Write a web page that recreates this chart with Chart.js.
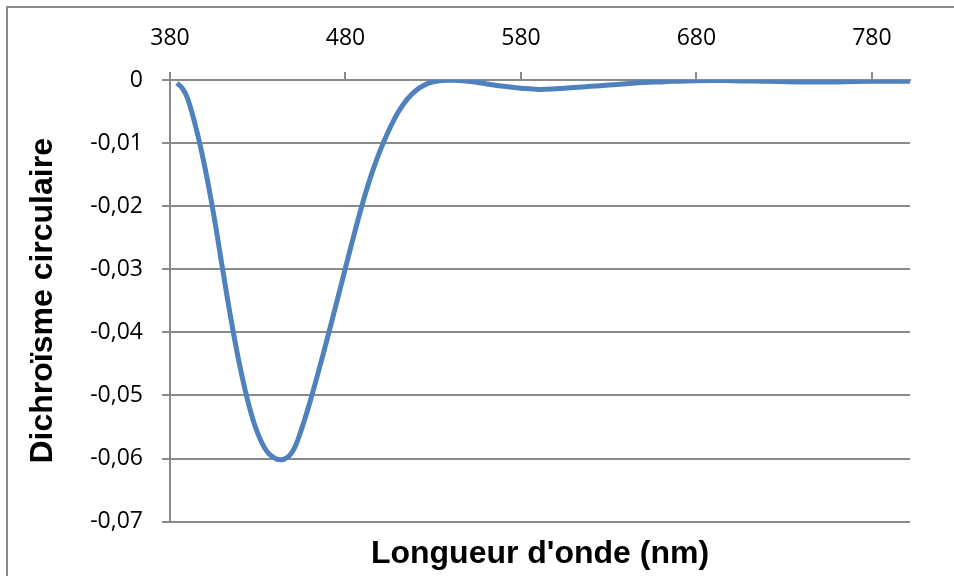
<!DOCTYPE html>
<html>
<head>
<meta charset="utf-8">
<script src="https://cdn.jsdelivr.net/npm/chart.js@4.4.1/dist/chart.umd.min.js"></script>
<style>
  html, body { margin: 0; padding: 0; background: #fff; }
  #wrap { width: 954px; height: 576px; }
</style>
</head>
<body>
<div id="wrap"><canvas id="cd"></canvas></div>
<script>
// --- données ---
const wavelengths = [384, 387, 390, 395, 400, 405, 410, 415, 420, 425, 430, 435, 440, 445, 450, 455, 460, 465, 470, 475, 480, 485, 490, 495, 500, 505, 510, 515, 520, 525, 530, 535, 540, 550, 560, 570, 580, 590, 600, 610, 620, 630, 640, 650, 660, 680, 700, 720, 740, 760, 780, 802];
const cdValues = [-0.0005, -0.0013, -0.0029, -0.0078, -0.0140, -0.0215, -0.0300, -0.0383, -0.0456, -0.0516, -0.0560, -0.0588, -0.0600, -0.0601, -0.0588, -0.0553, -0.0508, -0.0458, -0.0406, -0.0352, -0.0298, -0.0244, -0.0193, -0.0148, -0.0110, -0.0078, -0.0051, -0.0031, -0.0017, -0.0008, -0.0003, -0.0001, 0, -0.0002, -0.0006, -0.0010, -0.0013, -0.0015, -0.0014, -0.0012, -0.0010, -0.0008, -0.0006, -0.0004, -0.0003, -0.0001, -0.0001, -0.0002, -0.0003, -0.0003, -0.0002, -0.0002];
const xTicks = [380, 480, 580, 680, 780];
const yTicks = [0, -0.01, -0.02, -0.03, -0.04, -0.05, -0.06, -0.07];

const points = wavelengths.map((x, i) => ({ x, y: cdValues[i] }));

// cadre gris du graphique (coupé à droite et en bas)
const framePlugin = {
    id: 'frame',
    beforeDraw(chart) {
        const ctx = chart.ctx;
        ctx.save();
        ctx.fillStyle = '#ffffff';
        ctx.fillRect(0, 0, chart.width, chart.height);
        ctx.strokeStyle = '#8a8a8a';
        ctx.lineWidth = 2;
        ctx.beginPath();
        ctx.moveTo(7, chart.height + 2);
        ctx.lineTo(7, 7);
        ctx.lineTo(chart.width + 2, 7);
        ctx.stroke();
        ctx.restore();
    }
};

const tickFont = { family: '"Open Sans", sans-serif', size: 23 };
const titleFont = { family: '"Liberation Sans", Arial, sans-serif', size: 32, weight: 'bold' };

new Chart(document.getElementById('cd'), {
    type: 'line',
    data: {
        datasets: [{
            data: points,
            borderColor: '#4f81bd',
            borderWidth: 5,
            pointRadius: 0,
            tension: 0.4,
            fill: false,
        }]
    },
    plugins: [framePlugin],
    options: {
        responsive: true,
        maintainAspectRatio: false,
        animation: false,
        layout: { padding: { left: 0, top: 0, right: 44, bottom: 0 } },
        plugins: {
            legend: { display: false },
            tooltip: { enabled: false },
            title: {
                display: true,
                position: 'bottom',
                fullSize: false,
                text: "Longueur d'onde (nm)",
                color: '#000',
                font: titleFont,
                padding: { top: 13, bottom: 3 },
            },
        },
        scales: {
            x: {
                type: 'linear',
                position: 'top',
                min: 380,
                max: 801.7,
                afterBuildTicks: (scale) => { scale.ticks = xTicks.map(v => ({ value: v })); },
                afterFit: (scale) => { scale.height = 80; },
                ticks: { color: '#000', font: tickFont, padding: 20, maxRotation: 0, callback: (v) => String(v) },
                grid: { drawOnChartArea: false, drawTicks: true, tickLength: 8, color: '#8a8a8a', lineWidth: 2 },
                border: { display: true, color: '#8a8a8a', width: 2 },
            },
            y: {
                type: 'linear',
                min: -0.07,
                max: 0,
                afterBuildTicks: (scale) => { scale.ticks = yTicks.map(v => ({ value: v })); },
                afterFit: (scale) => { scale.width = 170; },
                ticks: {
                    color: '#000',
                    font: tickFont,
                    padding: 19,
                    callback: (v) => {
                        const r = Math.round(v * 100) / 100;
                        return r === 0 ? '0' : r.toFixed(2).replace('.', ',');
                    }
                },
                grid: { color: '#8a8a8a', lineWidth: 2, tickLength: 8 },
                border: { display: true, color: '#8a8a8a', width: 2 },
                title: {
                    display: true,
                    text: 'Dichroïsme circulaire',
                    color: '#000',
                    font: titleFont,
                    padding: { top: 24, bottom: 0 },
                },
            },
        },
    },
});
</script>
</body>
</html>
